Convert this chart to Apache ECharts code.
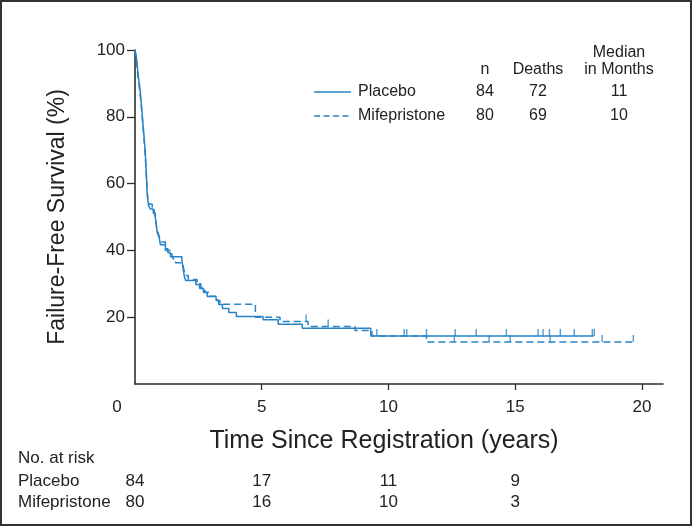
<!DOCTYPE html>
<html><head><meta charset="utf-8">
<script src="https://cdn.jsdelivr.net/npm/echarts@6/dist/echarts.min.js"></script>
<style>html,body{margin:0;padding:0;background:#fff}#c{width:692px;height:526px}</style>
</head><body><div id="c"></div>
<script>
// Kaplan-Meier steps (time in years, survival %)
const placeboTime = [0,0.03,0.06,0.09,0.12,0.16,0.2,0.24,0.28,0.32,0.36,0.4,0.43,0.46,0.49,0.53,0.6,0.72,0.8,0.84,0.88,0.95,1.0,1.2,1.3,1.4,1.85,1.9,1.95,2.0,2.4,2.55,2.7,2.85,3.2,3.3,3.45,3.7,4.0,5.05,5.65,6.6,9.3,18.1];
const placeboSurv = [100,98.8,97.6,95.2,92.9,90.5,88.1,84.5,81,77.4,73.8,70.2,65.5,60.7,56,53.6,52.4,51.2,50,47.6,45.2,44,41.7,40.5,39.3,38.1,36.9,34.5,32.1,31,29.8,28.6,27.4,26.2,25,23.8,22.6,21.4,20.2,19.2,17.9,16.7,14.4,14.4];
const mifeTime = [0,0.02,0.05,0.08,0.11,0.15,0.19,0.23,0.27,0.31,0.35,0.39,0.42,0.45,0.48,0.52,0.58,0.68,0.76,0.82,0.86,0.92,0.98,1.05,1.2,1.45,1.5,1.6,1.9,1.95,2.0,2.1,2.45,2.6,2.75,2.9,3.25,3.35,4.75,5.72,6.83,8.68,9.35,11.5,19.66];
const mifeSurv = [100,98.8,97.5,95,92.5,90,87.5,85,81.3,77.5,73.8,70,66.3,62.5,57.5,55,53.8,52.5,51.3,48.8,46.3,45,43.8,42.5,40,38.8,37.5,36.3,35,33.8,32.5,31.3,30,28.8,27.5,26.3,25,23.9,20,18.7,17.2,16,14.4,12.6,12.6];
// censor marks
const placeboCensTime = [11.5,12.63,13.46,14.65,15.9,16.1,16.35,16.78,17.33,18.04,18.12];
const placeboCensSurv = [14.4,14.4,14.4,14.4,14.4,14.4,14.4,14.4,14.4,14.4,14.4];
const mifeCensTime = [6.75,7.62,9.54,10.62,10.72,12.6,13.97,14.8,16.38,18.43,19.66];
const mifeCensSurv = [18.7,17.2,14.4,14.4,14.4,12.6,12.6,12.6,12.6,12.6,12.6];
// axes
const xTicks = [0,5,10,15,20];
const yTicks = [20,40,60,80,100];
// legend table
const groupNames = ['Placebo','Mifepristone'];
const groupN = [84,80];
const groupDeaths = [72,69];
const groupMedian = [11,10];
// number at risk
const riskYears = [0,5,10,15];
const riskPlacebo = [84,17,11,9];
const riskMife = [80,16,10,3];

const BLUE = '#2683c6';
const AX = '#2e2e2e';
const FONT = '"Liberation Sans", Arial, Helvetica, sans-serif';
const zip = (a,b)=>a.map((v,i)=>[v,b[i]]);

const chart = echarts.init(document.getElementById('c'), null, {renderer:'canvas'});
const option = {
  animation:false,
  backgroundColor:'#fff',
  grid:{left:135,right:29,top:50,bottom:142,containLabel:false},
  xAxis:{type:'value',min:0,max:20.83,interval:5,
    axisLine:{lineStyle:{color:AX,width:1.6}},
    axisTick:{customValues:xTicks.slice(1),length:6,lineStyle:{color:AX,width:1.3}},
    axisLabel:{customValues:xTicks.slice(1),margin:15,fontSize:17,color:'#222',fontFamily:FONT},
    splitLine:{show:false}
  },
  yAxis:{type:'value',min:0,max:100,interval:20,
    axisLine:{show:true,lineStyle:{color:AX,width:1.6}},
    axisTick:{show:true,customValues:yTicks,length:8,lineStyle:{color:AX,width:1.3}},
    axisLabel:{customValues:yTicks,margin:10,fontSize:17,color:'#222',fontFamily:FONT},
    splitLine:{show:false},
    name:'Failure-Free Survival (%)',nameLocation:'middle',nameGap:66,nameRotate:90,
    nameTextStyle:{fontSize:23,color:'#222',fontFamily:FONT}
  },
  series:[
    {name:'Placebo',type:'line',step:'end',symbol:'none',data:zip(placeboTime,placeboSurv),
     lineStyle:{color:BLUE,width:1.5},z:3},
    {name:'Mifepristone',type:'line',step:'end',symbol:'none',data:zip(mifeTime,mifeSurv),
     lineStyle:{color:BLUE,width:1.5,type:[7,4]},z:3},
    {type:'scatter',data:zip(placeboCensTime,placeboCensSurv),symbol:'rect',symbolSize:[1.4,7],
     symbolOffset:[0,'-50%'],itemStyle:{color:BLUE},z:4},
    {type:'scatter',data:zip(mifeCensTime,mifeCensSurv),symbol:'rect',symbolSize:[1.4,7],
     symbolOffset:[0,'-50%'],itemStyle:{color:BLUE},z:4}
  ]
};
chart.setOption(option);

function txt(x,y,s,align,size){
  return {type:'text',x:x,y:y,style:{text:String(s),fontSize:size||17,fontFamily:FONT,fill:'#222',align:align||'left',verticalAlign:'middle'}};
}
const g = [];
// frame
g.push({type:'rect',shape:{x:1,y:1,width:690,height:524},style:{fill:null,stroke:'#333',lineWidth:2},silent:true});
// x "0" label at corner
g.push(txt(117,407,xTicks[0],'center',17));
// x axis title
g.push(txt(384,441,'Time Since Registration (years)','center',25));
// legend
const colN=485, colD=538, colM=619;
g.push(txt(colM,53,'Median','center',16));
g.push(txt(colN,70,'n','center',16));
g.push(txt(colD,70,'Deaths','center',16));
g.push(txt(colM,70,'in Months','center',16));
const rowY=[92,116];
groupNames.forEach((nm,i)=>{
  g.push({type:'line',shape:{x1:314,y1:rowY[i],x2:351,y2:rowY[i]},
    style:{stroke:BLUE,lineWidth:1.5,lineDash:i===1?[6,3.5]:null}});
  g.push(txt(358,rowY[i],nm,'left',16));
  g.push(txt(colN,rowY[i],groupN[i],'center',16));
  g.push(txt(colD,rowY[i],groupDeaths[i],'center',16));
  g.push(txt(colM,rowY[i],groupMedian[i],'center',16));
});
// number at risk table
g.push(txt(18,458,'No. at risk','left',17));
g.push(txt(18,481,groupNames[0],'left',17));
g.push(txt(18,502,groupNames[1],'left',17));
riskYears.forEach((yr,i)=>{
  const px = chart.convertToPixel({xAxisIndex:0}, yr);
  g.push(txt(px,481,riskPlacebo[i],'center',17));
  g.push(txt(px,502,riskMife[i],'center',17));
});
chart.setOption({graphic:{elements:g}});
</script>
</body></html>
